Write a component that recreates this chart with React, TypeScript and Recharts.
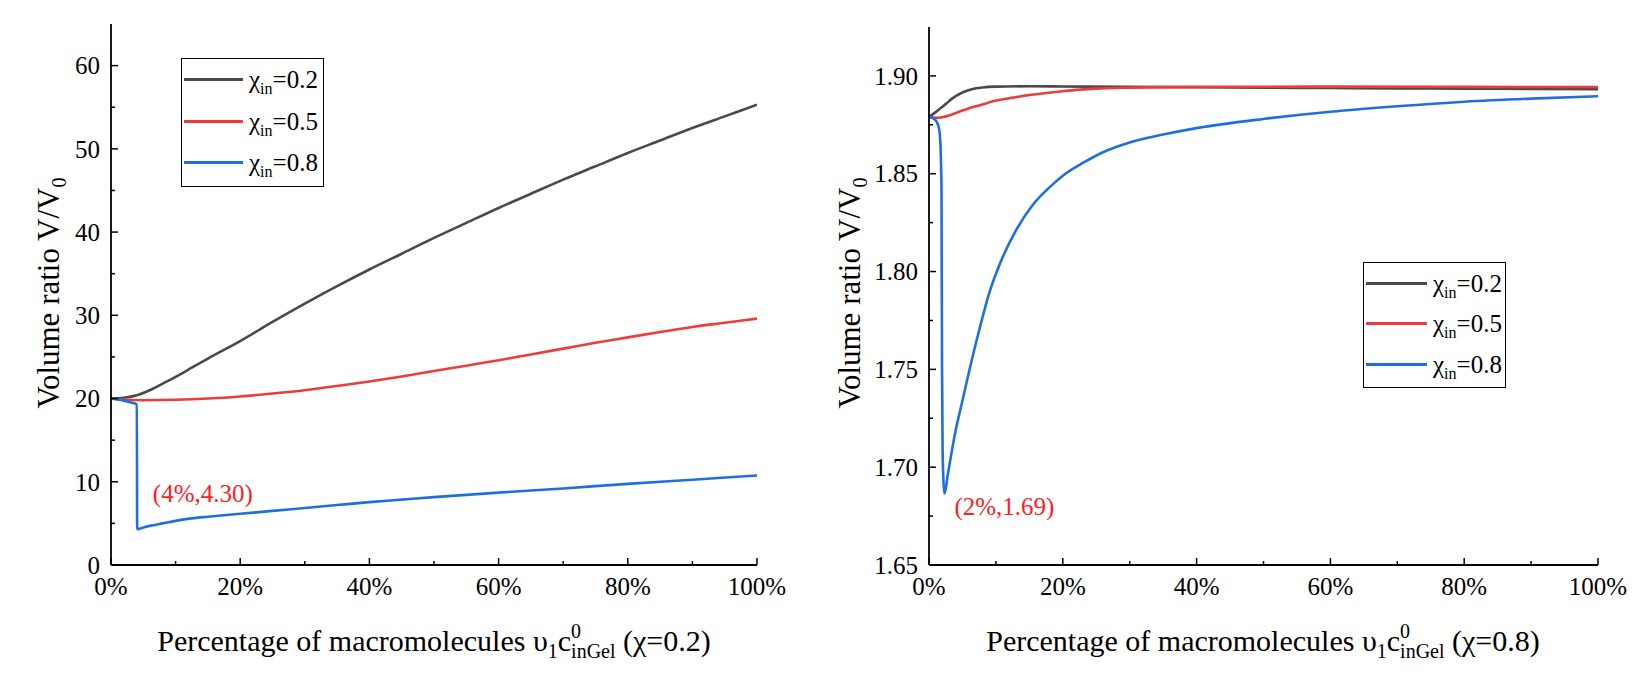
import { LineChart, Line, XAxis, YAxis, Legend, ReferenceDot } from "recharts"

type Pt = [number, number]

// left panel: chi = 0.2, volume ratio vs macromolecule fraction
const leftChi02: Pt[] = [
  [0, 20.0], [0.02, 20.1], [0.04, 20.4], [0.06, 21.0], [0.08, 21.8], [0.1, 22.6],
  [0.125, 23.7], [0.15, 24.8], [0.2, 26.9], [0.25, 29.2], [0.3, 31.4], [0.35, 33.5],
  [0.4, 35.5], [0.45, 37.4], [0.5, 39.3], [0.55, 41.1], [0.6, 42.9], [0.65, 44.6],
  [0.7, 46.3], [0.75, 47.9], [0.8, 49.5], [0.85, 51.0], [0.9, 52.5], [0.95, 53.9], [1.0, 55.3],
]
const leftChi05: Pt[] = [
  [0, 20.0], [0.02, 19.85], [0.05, 19.8], [0.1, 19.85], [0.15, 20.0], [0.2, 20.25],
  [0.25, 20.6], [0.3, 21.0], [0.35, 21.5], [0.4, 22.05], [0.45, 22.65], [0.5, 23.3],
  [0.55, 23.95], [0.6, 24.6], [0.65, 25.3], [0.7, 26.0], [0.75, 26.7], [0.8, 27.35],
  [0.85, 28.0], [0.9, 28.6], [0.95, 29.1], [1.0, 29.6],
]
const leftChi08: Pt[] = [
  [0, 20.0], [0.01, 19.9], [0.02, 19.75], [0.03, 19.55], [0.04, 19.3], [0.0405, 4.3],
  [0.05, 4.5], [0.06, 4.7], [0.08, 5.0], [0.1, 5.3], [0.125, 5.6], [0.15, 5.8],
  [0.2, 6.15], [0.25, 6.5], [0.3, 6.85], [0.35, 7.2], [0.4, 7.55], [0.45, 7.85],
  [0.5, 8.15], [0.6, 8.7], [0.7, 9.2], [0.8, 9.75], [0.9, 10.25], [1.0, 10.75],
]

// right panel: chi = 0.8
const rightChi02: Pt[] = [
  [0, 1.879], [0.01, 1.8815], [0.02, 1.8842], [0.026, 1.8859], [0.035, 1.8885],
  [0.05, 1.8915], [0.064, 1.8932], [0.08, 1.8941], [0.1, 1.8945], [0.15, 1.8947],
  [0.2, 1.8946], [0.3, 1.8944], [0.4, 1.8942], [0.5, 1.894], [0.6, 1.8938],
  [0.7, 1.8936], [0.8, 1.8935], [0.9, 1.8933], [1.0, 1.8932],
]
const rightChi05: Pt[] = [
  [0, 1.879], [0.01, 1.8786], [0.02, 1.8789], [0.03, 1.8798], [0.04, 1.881],
  [0.05, 1.8823], [0.06, 1.8835], [0.076, 1.885], [0.1, 1.8874], [0.126, 1.8889],
  [0.15, 1.8902], [0.2, 1.8922], [0.226, 1.893], [0.25, 1.8935], [0.3, 1.894],
  [0.4, 1.8944], [0.6, 1.8945], [0.8, 1.8944], [1.0, 1.8943],
]
const rightChi08: Pt[] = [
  [0, 1.879], [0.004, 1.8787], [0.008, 1.8779], [0.012, 1.8762], [0.015, 1.873],
  [0.017, 1.866], [0.018, 1.855], [0.0187, 1.84], [0.019, 1.8], [0.0195, 1.75],
  [0.0203, 1.71], [0.0215, 1.694], [0.023, 1.6866], [0.025, 1.689], [0.028, 1.696],
  [0.03, 1.7], [0.035, 1.71], [0.04, 1.719], [0.05, 1.734], [0.06, 1.749],
  [0.075, 1.77], [0.09, 1.789], [0.106, 1.804], [0.13, 1.821], [0.155, 1.834],
  [0.18, 1.843], [0.2, 1.849], [0.23, 1.8555], [0.26, 1.861], [0.3, 1.866],
  [0.35, 1.87], [0.4, 1.8733], [0.5, 1.878], [0.6, 1.8817], [0.7, 1.8845],
  [0.8, 1.8868], [0.9, 1.8884], [1.0, 1.8896],
]

const seriesNames = ["0.2", "0.5", "0.8"]
const xTicks = [0, 0.1, 0.2, 0.3, 0.4, 0.5, 0.6, 0.7, 0.8, 0.9, 1.0]
const leftYTicks = [0, 5, 10, 15, 20, 25, 30, 35, 40, 45, 50, 55, 60]
const rightYTicks = [1.65, 1.675, 1.7, 1.725, 1.75, 1.775, 1.8, 1.825, 1.85, 1.875, 1.9]
const leftMin: Pt = [0.04, 4.3]
const rightMin: Pt = [0.02, 1.6866]

const COLORS = ["#4a4a4a", "#ef3b3b", "#1f6fe0"]
const FONT = "Liberation Serif, Times New Roman, DejaVu Serif, serif"

const toPoints = (pts: Pt[]) => pts.map(([x, y]) => ({ x, y }))

const isMajor = (v: number, step: number) => Math.abs(v / step - Math.round(v / step)) < 1e-6

function YTick(props: any) {
  const { x, y, payload, step, digits } = props
  const major = isMajor(payload.value, step)
  return (
    <g>
      <line x1={x} x2={x + (major ? 7 : 4)} y1={y} y2={y} stroke="#000" strokeWidth={1.5} />
      {major && (
        <text x={x - 11} y={y} dy="0.35em" textAnchor="end" style={{ fontFamily: FONT, fontSize: 25 }} fill="#000">
          {payload.value.toFixed(digits)}
        </text>
      )}
    </g>
  )
}

function XTick(props: any) {
  const { x, y, payload } = props
  const major = isMajor(payload.value, 0.2)
  return (
    <g>
      <line x1={x} x2={x} y1={y} y2={y - (major ? 7 : 4)} stroke="#000" strokeWidth={1.5} />
      {major && (
        <text x={x} y={y + 30} textAnchor="middle" style={{ fontFamily: FONT, fontSize: 25 }} fill="#000">
          {Math.round(payload.value * 100) + "%"}
        </text>
      )}
    </g>
  )
}

function YTitle({ px, py }: any) {
  return (
    <text x={px} y={py + 11} transform={`rotate(-90 ${px} ${py})`} textAnchor="middle" style={{ fontFamily: FONT, fontSize: 31 }} fill="#000">
      Volume ratio V/V<tspan fontSize={20} dy={7}>0</tspan>
    </text>
  )
}

function XTitle({ px, py, chi }: any) {
  return (
    <text x={px} y={py} textAnchor="middle" style={{ fontFamily: FONT, fontSize: 30 }} fill="#000">
      Percentage of macromolecules υ
      <tspan fontSize={20} dy={7}>1</tspan>
      <tspan fontSize={30} dy={-7}>c</tspan>
      <tspan fontSize={20} dy={-13}>0</tspan>
      <tspan fontSize={20} dx={-10} dy={20}>inGel</tspan>
      <tspan fontSize={30} dy={-7}>{" (χ=" + chi + ")"}</tspan>
    </text>
  )
}

function Annot({ viewBox, text, dx, dy }: any) {
  const cx = viewBox.x + (viewBox.width || 0) / 2
  const cy = viewBox.y + (viewBox.height || 0) / 2
  return (
    <text x={cx + dx} y={cy + dy} dominantBaseline="central" style={{ fontFamily: FONT, fontSize: 25 }} fill="#ff2020">
      {text}
    </text>
  )
}

function makeLegend(rowH: number, lineW: number) {
  return (props: any) => (
    <div
      style={{
        border: "1.5px solid #000",
        background: "#fff",
        width: 141,
        fontFamily: FONT,
        fontSize: 25,
        color: "#000",
        paddingBottom: 2,
      }}
    >
      {(props.payload || []).map((entry: any) => (
        <div key={entry.value} style={{ display: "flex", alignItems: "center", height: rowH }}>
          <span style={{ display: "inline-block", width: lineW, height: 3, background: entry.color, marginLeft: 2, marginRight: 6 }} />
          <span style={{ lineHeight: 1 }}>
            χ<span style={{ fontSize: 16, position: "relative", top: 6 }}>in</span>={entry.value}
          </span>
        </div>
      ))}
    </div>
  )
}

function Panel(props: any) {
  const { series, yDomain, yTicks, digits, yStep, margin, chi, legendPos, legendRow, legendLine, minPt, annotText, annotDx, annotDy, yTitleX, xTitleX } = props
  return (
    <LineChart width={820} height={675} margin={margin}>
      <XAxis
        dataKey="x"
        type="number"
        domain={[0, 1]}
        ticks={xTicks}
        interval={0}
        height={40}
        tickSize={0}
        tickMargin={0}
        tickLine={false}
        axisLine={{ stroke: "#000", strokeWidth: 1.8 }}
        tick={(p: any) => <XTick {...p} />}
        allowDataOverflow
        label={<XTitle px={xTitleX} py={651} chi={chi} />}
      />
      <XAxis xAxisId="top" orientation="top" type="number" domain={[0, 1]} height={0} tick={false} tickLine={false} axisLine={{ stroke: "#000", strokeWidth: 1.8 }} />
      <YAxis
        type="number"
        domain={yDomain}
        ticks={yTicks}
        interval={0}
        width={60}
        tickSize={0}
        tickMargin={0}
        tickLine={false}
        axisLine={{ stroke: "#000", strokeWidth: 1.8 }}
        tick={(p: any) => <YTick {...p} step={yStep} digits={digits} />}
        allowDataOverflow
        label={<YTitle px={yTitleX} py={293} />}
      />
      <YAxis yAxisId="right" orientation="right" type="number" domain={yDomain} width={0} tick={false} tickLine={false} axisLine={{ stroke: "#000", strokeWidth: 1.8 }} />
      {series.map((s: Pt[], i: number) => (
        <Line
          key={seriesNames[i]}
          name={seriesNames[i]}
          data={toPoints(s)}
          dataKey="y"
          type="monotone"
          stroke={COLORS[i]}
          strokeWidth={2.6}
          dot={false}
          activeDot={false}
          isAnimationActive={false}
        />
      ))}
      <ReferenceDot
        x={minPt[0]}
        y={minPt[1]}
        r={1}
        fill="none"
        stroke="none"
        label={<Annot text={annotText} dx={annotDx} dy={annotDy} />}
      />
      <Legend
        layout="vertical"
        align="center"
        verticalAlign="middle"
        wrapperStyle={{ position: "absolute", left: legendPos[0], top: legendPos[1], width: "auto", height: "auto" }}
        content={makeLegend(legendRow, legendLine)}
      />
    </LineChart>
  )
}

export default function App() {
  return (
    <div style={{ position: "absolute", left: 0, top: 0, width: 1640, height: 675, background: "#fff" }}>
      <div style={{ position: "absolute", left: 0, top: 0 }}>
        <Panel
          series={[leftChi02, leftChi05, leftChi08]}
          yDomain={[0, 65]}
          yTicks={leftYTicks}
          yStep={10}
          digits={0}
          margin={{ top: 24, right: 63, bottom: 70, left: 51 }}
          chi="0.2"
          legendPos={[181, 58]}
          legendRow={41.5}
          legendLine={59}
          minPt={leftMin}
          annotText="(4%,4.30)"
          annotDx={16}
          annotDy={-36}
          yTitleX={48}
          xTitleX={434}
        />
      </div>
      <div style={{ position: "absolute", left: 820, top: 0 }}>
        <Panel
          series={[rightChi02, rightChi05, rightChi08]}
          yDomain={[1.65, 1.925]}
          yTicks={rightYTicks}
          yStep={0.05}
          digits={2}
          margin={{ top: 27, right: 42, bottom: 70, left: 49 }}
          chi="0.8"
          legendPos={[543, 262]}
          legendRow={40.5}
          legendLine={61}
          minPt={rightMin}
          annotText="(2%,1.69)"
          annotDx={12}
          annotDy={13}
          yTitleX={29}
          xTitleX={443}
        />
      </div>
    </div>
  )
}
